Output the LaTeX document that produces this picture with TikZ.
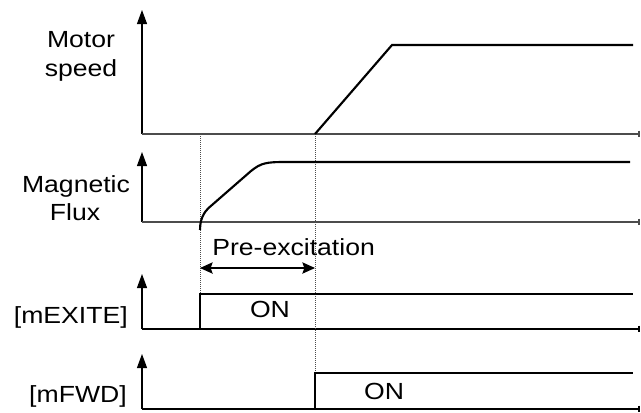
\documentclass[tikz,border=0pt]{standalone}
\usepackage{fontspec}
\setmainfont{Liberation Sans}[FakeStretch=1.14]
\usetikzlibrary{arrows.meta}
\begin{document}
\begin{tikzpicture}[x=0.75pt,y=-0.75pt,
  lbl/.style={inner sep=0pt,anchor=base,font=\fontsize{17.5}{21}\selectfont},
  yaxis/.style={line width=0.8pt,-{Triangle[length=10.5pt,width=7.5pt]}},
  xaxis/.style={line width=0.8pt,draw=black!70,-{Bar[width=5pt,line width=1.6pt]}},
  sig/.style={line width=1.6pt,line join=miter},
  guide/.style={line width=0.5pt,draw=black!70,densely dotted},
  span/.style={line width=0.8pt,{Stealth[length=9.5pt,width=8.5pt,inset=1.5pt]}-{Stealth[length=9.5pt,width=8.5pt,inset=1.5pt]}}]
\useasboundingbox (0,0) rectangle (641,412);
% coordinates
\coordinate (o1) at (142,134); \coordinate (t1) at (142,10); \coordinate (e1) at (640,134);
\coordinate (o2) at (142,222); \coordinate (t2) at (142,152); \coordinate (e2) at (640,222);
\coordinate (o3) at (142,329); \coordinate (t3) at (142,274); \coordinate (e3) at (640,329);
\coordinate (o4) at (142,409); \coordinate (t4) at (142,354); \coordinate (e4) at (640,409);
% axes
\draw[yaxis] (o1) -- (t1);
\draw[xaxis] (o1) -- (e1);
\draw[yaxis] (o2) -- (t2);
\draw[xaxis] (o2) -- (e2);
\draw[yaxis] (o3) -- (t3);
\draw[xaxis,draw=black] (o3) -- (e3);
\draw[yaxis] (o4) -- (t4);
\draw[xaxis,draw=black] (o4) -- (e4);
% guides
\coordinate (g1a) at (200,134); \coordinate (g1b) at (200,294);
\coordinate (g2a) at (315,134); \coordinate (g2b) at (315,373);
\draw[guide] (g1a) -- (g1b);
\draw[guide] (g2a) -- (g2b);
% motor speed
\coordinate (m0) at (315,134); \coordinate (m1) at (392,45); \coordinate (m2) at (633,45);
\draw[sig] (m0) -- (m1) -- (m2);
% flux
\coordinate (f0) at (200,230); \coordinate (f1) at (212,205); \coordinate (f2) at (251,171);
\coordinate (f3) at (285,162); \coordinate (f4) at (630,162);
\draw[sig,line join=round] (f0) .. controls (200,216) and (206,210) .. (f1) -- (f2) .. controls (261,163) and (266,162) .. (f3) -- (f4);
% pre-excitation
\coordinate (p0) at (200,268); \coordinate (p1) at (315,268);
\draw[span] (p0) -- (p1);
\node[lbl,anchor=base west] (pre) at (212,255.5) {Pre-excitation};
% mEXITE
\coordinate (x0) at (200,329); \coordinate (x1) at (200,294); \coordinate (x2) at (633,294);
\draw[sig] (x0) -- (x1) -- (x2);
\node[lbl] (on1) at (270,317) {ON};
% mFWD
\coordinate (w0) at (315,409); \coordinate (w1) at (315,373); \coordinate (w2) at (633,373);
\draw[sig] (w0) -- (w1) -- (w2);
\node[lbl] (on2) at (384,399) {ON};
% labels
\node[lbl] (motor) at (81,47) {Motor};
\node[lbl] (speed) at (81,76) {speed};
\node[lbl] (magnetic) at (76,192) {Magnetic};
\node[lbl] (flux) at (75,220) {Flux};
\node[lbl,anchor=base east] (exite) at (128,323) {[mEXITE]};
\node[lbl,anchor=base east] (fwd) at (127,402) {[mFWD]};
\end{tikzpicture}
\end{document}
